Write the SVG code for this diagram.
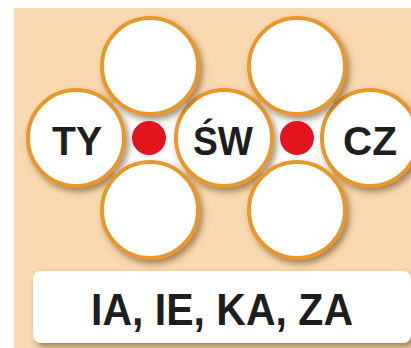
<svg xmlns="http://www.w3.org/2000/svg" width="411" height="348" viewBox="0 0 411 348">
<defs>
<filter id="sh" x="-30%" y="-30%" width="160%" height="160%">
<feDropShadow dx="3" dy="4" stdDeviation="3" flood-color="#5a3a14" flood-opacity="0.55"/>
</filter>
</defs>
<style>
.c{fill:#fff;stroke:#E8982A;stroke-width:4}
.t{font-family:"Liberation Sans",Arial,sans-serif;font-weight:bold;fill:#1e1e1e;text-anchor:middle}
.dot{fill:#E3141E}
</style>
<rect width="411" height="348" fill="#fff"/>
<rect x="14" y="8" width="397" height="340" fill="#FAD9B1"/>
<circle cx="150" cy="138" r="50" fill="#fff"/>
<circle cx="297" cy="138" r="50" fill="#fff"/>
<g id="ty"><circle class="c" cx="76" cy="138" r="48" filter="url(#sh)"/><text class="t" x="77" y="155" font-size="41" textLength="50" lengthAdjust="spacingAndGlyphs">TY</text></g>
<g id="sw"><circle class="c" cx="224" cy="138" r="48" filter="url(#sh)"/><text class="t" x="223" y="155" font-size="41" textLength="60" lengthAdjust="spacingAndGlyphs">ŚW</text></g>
<g id="cz"><circle class="c" cx="370" cy="138" r="48" filter="url(#sh)"/><text class="t" x="370" y="155" font-size="40" textLength="54" lengthAdjust="spacingAndGlyphs">CZ</text></g>
<g id="top1"><circle class="c" cx="150" cy="66" r="48" filter="url(#sh)"/></g>
<g id="top2"><circle class="c" cx="297" cy="66" r="48" filter="url(#sh)"/></g>
<g id="bot1"><circle class="c" cx="150" cy="210" r="48" filter="url(#sh)"/></g>
<g id="bot2"><circle class="c" cx="297" cy="210" r="48" filter="url(#sh)"/></g>
<g id="dot1"><circle class="dot" cx="149" cy="138" r="17"/></g>
<g id="dot2"><circle class="dot" cx="297" cy="138" r="17"/></g>
<g id="connectors"></g>
<g id="label"><rect x="33" y="271" width="378" height="72" rx="8" fill="#fff" filter="url(#sh)"/><text class="t" x="222" y="325" font-size="44" textLength="262" lengthAdjust="spacingAndGlyphs">IA, IE, KA, ZA</text></g>
</svg>
